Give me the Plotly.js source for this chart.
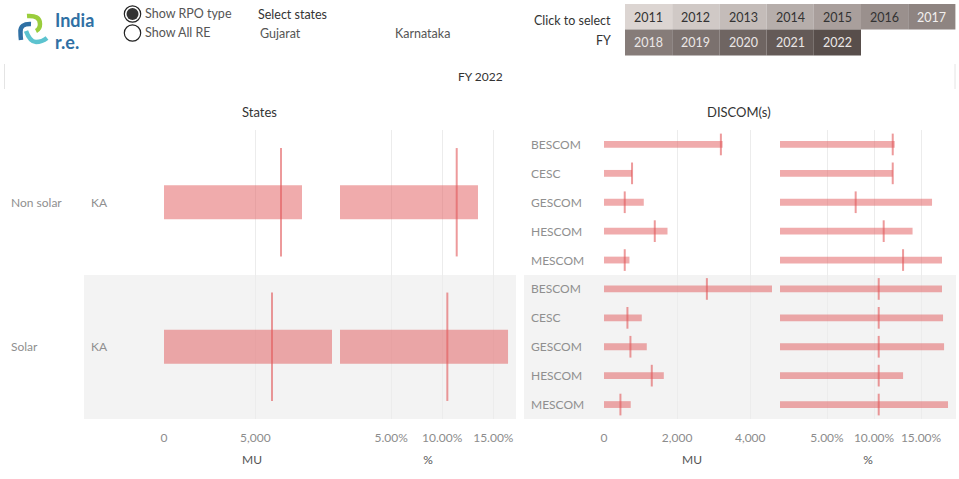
<!DOCTYPE html>
<html><head><meta charset="utf-8">
<script src="https://cdn.plot.ly/plotly-3.0.1.min.js"></script>
<style>html,body{margin:0;padding:0;background:#fff}#chart{width:959px;height:479px}</style>
</head><body><div id="chart"></div>
<script>
// ---------- data ----------
const rpoTypes = ['Non solar', 'Solar'];
const stateCode = 'KA';
const stateMU = [7553, 9195];
const stateMUTarget = [6404, 5911];
const statePct = [13.5, 16.44];
const statePctTarget = [11.42, 10.5];

const discoms = ['BESCOM', 'CESC', 'GESCOM', 'HESCOM', 'MESCOM'];
const discomMUNonSolar = [3244, 767, 1088, 1737, 696];
const discomMUTargetNonSolar = [3197, 767, 567, 1389, 567];
const discomPctNonSolar = [12.2, 11.99, 16.17, 14.1, 17.23];
const discomPctTargetNonSolar = [11.99, 11.99, 8.05, 11.03, 13.09];
const discomMUSolar = [4595, 1033, 1170, 1636, 731];
const discomMUTargetSolar = [2814, 641, 723, 1307, 449];
const discomPctSolar = [17.23, 17.34, 17.45, 13.09, 17.87];
const discomPctTargetSolar = [10.5, 10.5, 10.5, 10.5, 10.5];

const yearsRow1 = [2011, 2012, 2013, 2014, 2015, 2016, 2017];
const yearsRow2 = [2018, 2019, 2020, 2021, 2022];
const yearColorsRow1 = ['#dcd5d2', '#d0c9c6', '#c4bcb9', '#b6aeab', '#a99f9c', '#9a908d', '#8e8481'];
const yearColorsRow2 = ['#867c79', '#7b716e', '#6f6562', '#645a57', '#584e4b'];
const selectedFY = 'FY 2022';
const states = ['Gujarat', 'Karnataka'];

const muStateTicks = [0, 5000];
const muStateTickText = ['0', '5,000'];
const muDiscomTicks = [0, 2000, 4000];
const muDiscomTickText = ['0', '2,000', '4,000'];
const pctTicks = [0, 5, 10, 15];
const pctTickText = ['', '5.00%', '10.00%', '15.00%'];

// ---------- helpers ----------
const W = 959, H = 479;
const px = x => x / W;
const py = y => 1 - y / H;
const FONT = 'Lato, "Open Sans", sans-serif';
const BAR = 'rgba(225,87,89,0.5)';
const REF = 'rgba(225,87,89,0.6)';
const BAR_W = 0.235, REF_H = 0.375;

function refLines(vals, xa, ya) {
  const xs = [], ys = [];
  vals.forEach((v, i) => { xs.push(v, v, null); ys.push(i - REF_H, i + REF_H, null); });
  return {type: 'scatter', mode: 'lines', x: xs, y: ys, xaxis: xa, yaxis: ya,
    line: {color: REF, width: 2}, hoverinfo: 'skip', showlegend: false};
}
function bars(vals, xa, ya) {
  return {type: 'bar', orientation: 'h', x: vals, y: vals.map((_, i) => i), xaxis: xa, yaxis: ya,
    width: BAR_W, marker: {color: BAR, line: {width: 0}}, showlegend: false};
}

const dMU = discomMUNonSolar.concat(discomMUSolar);
const dMUT = discomMUTargetNonSolar.concat(discomMUTargetSolar);
const dPct = discomPctNonSolar.concat(discomPctSolar);
const dPctT = discomPctTargetNonSolar.concat(discomPctTargetSolar);
const dLabels = discoms.concat(discoms);

const traces = [
  bars(stateMU, 'x', 'y'), refLines(stateMUTarget, 'x', 'y'),
  bars(statePct, 'x2', 'y'), refLines(statePctTarget, 'x2', 'y'),
  bars(dMU, 'x3', 'y2'), refLines(dMUT, 'x3', 'y2'),
  bars(dPct, 'x4', 'y2'), refLines(dPctT, 'x4', 'y2')
];

function xax(d0, d1, range, tv, tt, anchor, title) {
  return {domain: [px(d0), px(d1)], range: range, anchor: anchor, tickvals: tv, ticktext: tt,
    showgrid: true, gridcolor: '#ececec', gridwidth: 1, zeroline: false, showline: false,
    ticks: 'outside', ticklen: 8, tickcolor: 'rgba(0,0,0,0)',
    tickfont: {family: FONT, size: 12, color: '#8c8c8c'},
    title: {text: title, font: {family: FONT, size: 12, color: '#555'}, standoff: 11},
    fixedrange: true};
}
const yDomain = [py(419), py(130)];

const ann = [];
function txt(t, x, y, opt) {
  ann.push(Object.assign({text: t, x: px(x), y: py(y), xref: 'paper', yref: 'paper', showarrow: false,
    xanchor: 'left', yanchor: 'middle', font: {family: FONT, size: 12, color: '#555'}}, opt || {}));
}
const LBL = {family: FONT, size: 12, color: '#8f8f8f'};
rpoTypes.forEach((r, i) => {
  ann.push({text: r, x: px(9), xref: 'paper', y: i, yref: 'y', showarrow: false, xanchor: 'left', font: LBL});
  ann.push({text: stateCode, x: px(89), xref: 'paper', y: i, yref: 'y', showarrow: false, xanchor: 'left', font: LBL});
});
dLabels.forEach((d, i) => {
  ann.push({text: d, x: px(529), xref: 'paper', y: i, yref: 'y2', showarrow: false, xanchor: 'left', font: LBL});
});
txt('States', 259, 112, {xanchor: 'center', font: {family: FONT, size: 13, color: '#333'}});
txt('DISCOM(s)', 739, 112, {xanchor: 'center', font: {family: FONT, size: 13, color: '#333'}});
txt(selectedFY, 480, 76, {xanchor: 'center', font: {family: FONT, size: 12, color: '#333'}});
// header
txt('Show RPO type', 143, 14, {font: {family: FONT, size: 12.5, color: '#555'}});
txt('Show All RE', 143, 32, {font: {family: FONT, size: 12.5, color: '#555'}});
txt('Select states', 256, 15, {font: {family: FONT, size: 12.5, color: '#333'}});
txt(states[0], 258, 33, {font: {family: FONT, size: 12.5, color: '#555'}});
txt(states[1], 393, 33, {font: {family: FONT, size: 12.5, color: '#555'}});
txt('Click to select', 613, 20, {xanchor: 'right', font: {family: FONT, size: 12.5, color: '#333'}});
txt('FY', 613, 40, {xanchor: 'right', font: {family: FONT, size: 12.5, color: '#333'}});
txt('India', 53, 20.5, {font: {family: FONT, size: 18, color: '#2f70a4', weight: 'bold'}});
txt('r.e.', 53, 42, {font: {family: FONT, size: 18, color: '#2f70a4', weight: 'bold'}});

const shapes = [];
shapes.push({type: 'rect', xref: 'paper', yref: 'paper', x0: px(84), x1: px(516), y0: py(419), y1: py(275),
  fillcolor: '#f3f3f3', line: {width: 0}, layer: 'below'});
shapes.push({type: 'rect', xref: 'paper', yref: 'paper', x0: px(524), x1: px(956), y0: py(419), y1: py(275),
  fillcolor: '#f3f3f3', line: {width: 0}, layer: 'below'});
[4.5, 955].forEach(x => shapes.push({type: 'line', xref: 'paper', yref: 'paper', x0: px(x), x1: px(x),
  y0: py(64), y1: py(89), line: {color: '#e4e4e4', width: 1}}));
// year selector
const cw = 47.2, x0c = 625, r1 = [4, 29.5], r2 = [29.5, 55.5];
yearsRow1.forEach((yr, i) => {
  shapes.push({type: 'rect', xref: 'paper', yref: 'paper', x0: px(x0c + i * cw), x1: px(x0c + (i + 1) * cw),
    y0: py(r1[1]), y1: py(r1[0]), fillcolor: yearColorsRow1[i], line: {width: 0}});
  txt(String(yr), x0c + (i + 0.5) * cw, 17.5, {xanchor: 'center',
    font: {family: FONT, size: 12.5, color: i < 6 ? '#333' : '#f2f0ef'}});
});
yearsRow2.forEach((yr, i) => {
  shapes.push({type: 'rect', xref: 'paper', yref: 'paper', x0: px(x0c + i * cw), x1: px(x0c + (i + 1) * cw),
    y0: py(r2[1]), y1: py(r2[0]), fillcolor: yearColorsRow2[i], line: {width: 0}});
  txt(String(yr), x0c + (i + 0.5) * cw, 43, {xanchor: 'center', font: {family: FONT, size: 12.5, color: '#ebe7e6'}});
});
function circ(cx, cy, r, fill, lw) {
  shapes.push({type: 'circle', xref: 'paper', yref: 'paper', x0: px(cx - r), x1: px(cx + r), y0: py(cy + r), y1: py(cy - r),
    fillcolor: fill, line: {color: '#222', width: lw}});
}
circ(132.5, 14, 8.2, '#fff', 1.2);
circ(132.5, 14, 6, '#333', 0);
circ(132.5, 33, 8.2, '#fff', 1.2);
// logo strokes
function path(pts) {
  let s = 'M ' + px(pts[0][0]) + ',' + py(pts[0][1]);
  for (let i = 1; i < pts.length; i += 2) s += ' Q ' + px(pts[i][0]) + ',' + py(pts[i][1]) + ' ' + px(pts[i + 1][0]) + ',' + py(pts[i + 1][1]);
  return s;
}
function stroke(pts, col) {
  shapes.push({type: 'path', xref: 'paper', yref: 'paper', path: path(pts), line: {color: col, width: 4.5}, fillcolor: 'rgba(0,0,0,0)'});
}
stroke([[27, 16], [40, 15], [40, 24], [40, 29], [36, 31]], '#9acd3c');
stroke([[31, 24], [20, 23.5], [20.5, 32], [20.5, 36], [21, 40]], '#2f70a4');
stroke([[26, 31], [30, 42], [36, 42], [42, 42], [47, 38]], '#5cc3cf');

const layout = {
  width: W, height: H, margin: {l: 0, r: 0, t: 0, b: 0},
  paper_bgcolor: '#fff', plot_bgcolor: 'rgba(0,0,0,0)',
  showlegend: false, barmode: 'overlay', font: {family: FONT},
  xaxis: xax(164, 340, [0, 9633], muStateTicks, muStateTickText, 'y', 'MU'),
  xaxis2: xax(340, 516, [0, 17.22], pctTicks, pctTickText, 'y', '%'),
  xaxis3: xax(604, 780, [0, 4814], muDiscomTicks, muDiscomTickText, 'y2', 'MU'),
  xaxis4: xax(780, 956, [0, 18.72], pctTicks, pctTickText, 'y2', '%'),
  yaxis: {domain: yDomain, range: [1.5, -0.5], anchor: 'x', visible: false, fixedrange: true},
  yaxis2: {domain: yDomain, range: [9.5, -0.5], anchor: 'x3', visible: false, fixedrange: true},
  shapes: shapes, annotations: ann
};
Plotly.newPlot('chart', traces, layout, {displayModeBar: false, staticPlot: true});
</script>
</body></html>
